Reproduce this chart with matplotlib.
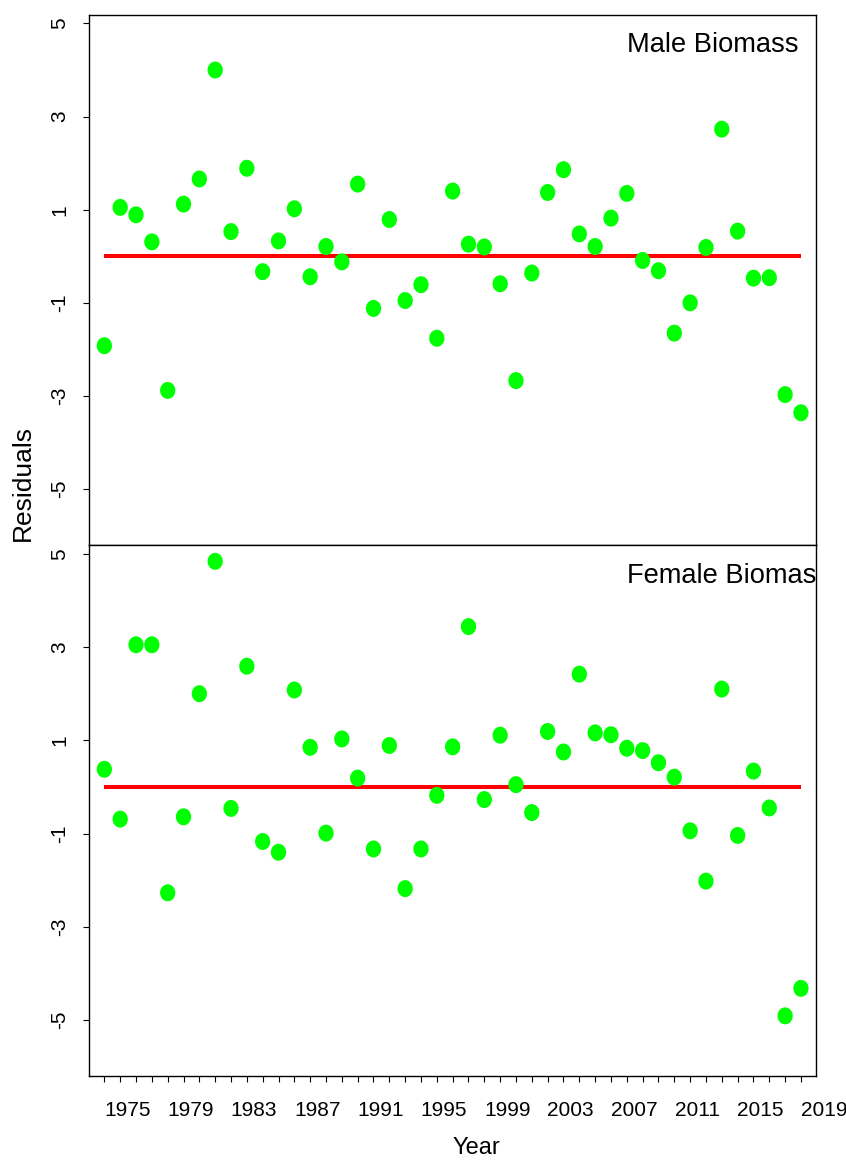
import numpy as np
import matplotlib
matplotlib.use('Agg')
import matplotlib.pyplot as plt

years = np.arange(1974, 2019)

male = [-1.92, 1.05, 0.89, 0.31, -2.88, 1.12, 1.66, 4.00, 0.53, 1.89,
        -0.33, 0.33, 1.02, -0.44, 0.21, -0.12, 1.55, -1.12, 0.79, -0.95,
        -0.61, -1.76, 1.40, 0.26, 0.20, -0.59, -2.67, -0.36, 1.37, 1.86,
        0.48, 0.21, 0.82, 1.35, -0.09, -0.31, -1.65, -1.00, 0.19, 2.73,
        0.54, -0.47, -0.46, -2.97, -3.36]

female = [0.38, -0.69, 3.05, 3.05, -2.27, -0.64, 2.00, 4.84, -0.46, 2.59,
          -1.17, -1.40, 2.08, 0.85, -0.99, 1.03, 0.19, -1.33, 0.89, -2.18,
          -1.33, -0.18, 0.86, 3.44, -0.27, 1.11, 0.05, -0.55, 1.19, 0.75,
          2.42, 1.16, 1.12, 0.83, 0.78, 0.52, 0.21, -0.94, -2.02, 2.10,
          -1.04, 0.34, -0.45, -4.91, -4.32]

panels = ['Male Biomass', 'Female Biomass']
ytick_vals = [5, 3, 1, -1, -3, -5]
xtick_labels = ['1975', '1979', '1983', '1987', '1991', '1995',
                '1999', '2003', '2007', '2011', '2015', '2019']

fam = ['Liberation Sans', 'DejaVu Sans']

# slightly tall ellipse, like the stretched R points
t = np.linspace(0, 2 * np.pi, 60)
ellipse = np.column_stack([0.9 * np.cos(t), np.sin(t)])

W, H = 846, 1162
fig = plt.figure(figsize=(W / 100, H / 100), dpi=100)
left, right = 89 / W, 816 / W
tops = [14.6, 545]
bots = [545, 1076]

for i, (name, vals) in enumerate(zip(panels, [male, female])):
    ax = fig.add_axes([left, 1 - bots[i] / H, right - left, (bots[i] - tops[i]) / H])
    ax.scatter(years, vals, marker=ellipse, s=12.2 ** 2, color='#00ff00',
               edgecolors='none', zorder=3)
    ax.plot([years[0], years[-1]], [0, 0], color='red', lw=2.9,
            solid_capstyle='butt', zorder=2)
    ax.set_yticks(ytick_vals)
    ax.set_yticklabels([str(v) for v in ytick_vals], rotation=90, va='center',
                       ha='right', family=fam, fontsize=15)
    ax.tick_params(axis='y', length=4, width=0.8, pad=10)
    for sp in ax.spines.values():
        sp.set_linewidth(1.0)
    ax.text((627 - 89) / (816 - 89), 1 - 37.5 / 530, name,
            transform=ax.transAxes, ha='left', va='baseline',
            family=fam, fontsize=19.6, clip_on=True)
    if i == 0:
        ax.set_xticks([])
    else:
        ax.set_xticks(years, minor=True)
        ax.set_xticks([])
        ax.tick_params(axis='x', which='minor', length=4.3, width=0.8)
        # labels sit between the yearly ticks, and the last one runs off the page
        for lab in xtick_labels:
            ax.text(int(lab) + 0.45, -25 / 531, lab, transform=ax.get_xaxis_transform(),
                    ha='center', va='top', family=fam, fontsize=15, clip_on=False)
    ax.set_xlim(1973.03, 2018.95)
    ax.set_ylim(-6.2, 5.19)

fig.text(23 / W, 1 - 483 / H, 'Residuals', rotation=90, ha='center', va='center',
         family=fam, fontsize=19)
fig.text(476 / W, 1 - 1148 / H, 'Year', ha='center', va='center',
         family=fam, fontsize=17)

fig.savefig('out.png', dpi=100)
